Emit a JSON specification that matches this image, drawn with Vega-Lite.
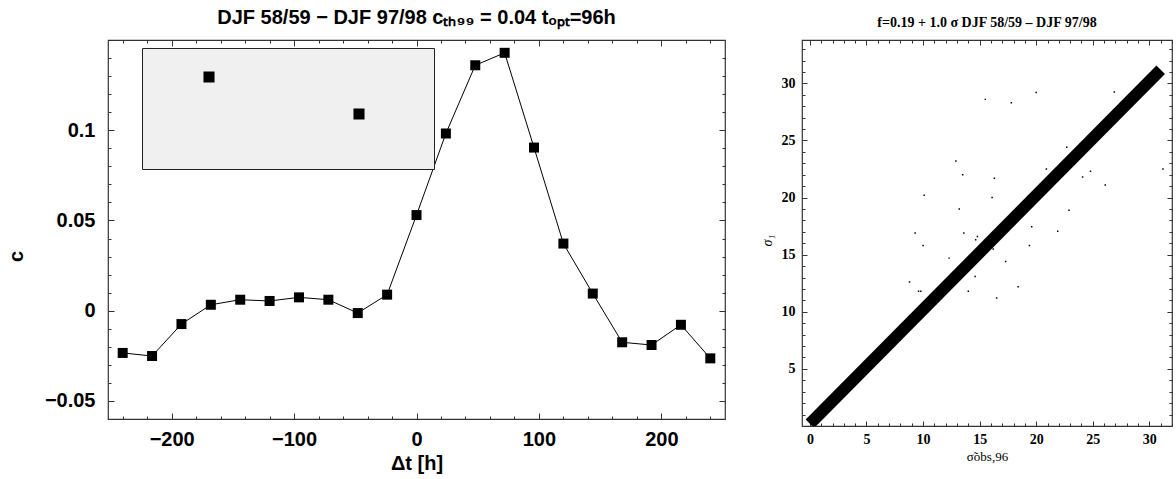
{
  "$schema": "https://vega.github.io/schema/vega-lite/v6.json",
  "background": "white",
  "padding": {"left": 5, "top": 6, "right": 0, "bottom": 0},
  "config": {
    "view": {"stroke": "#333", "strokeWidth": 1.2},
    "font": "Liberation Sans",
    "axis": {"domain": false, "grid": false, "tickColor": "#333", "tickWidth": 1, "labelColor": "black", "titleColor": "black"},
    "concat": {"spacing": 77}
  },
  "datasets": {
    "corr": [
      {"t": -240, "c": -0.0234}, {"t": -216, "c": -0.0251}, {"t": -192, "c": -0.0074},
      {"t": -168, "c": 0.0033}, {"t": -144, "c": 0.0061}, {"t": -120, "c": 0.0054},
      {"t": -96, "c": 0.0074}, {"t": -72, "c": 0.0061}, {"t": -48, "c": -0.0013},
      {"t": -24, "c": 0.0089}, {"t": 0, "c": 0.053}, {"t": 24, "c": 0.0982},
      {"t": 48, "c": 0.136}, {"t": 72, "c": 0.1429}, {"t": 96, "c": 0.0904},
      {"t": 120, "c": 0.0372}, {"t": 144, "c": 0.0095}, {"t": 168, "c": -0.0175},
      {"t": 192, "c": -0.019}, {"t": 216, "c": -0.0078}, {"t": 240, "c": -0.0264}
    ],
    "legendL": [
      {"series": "cE₉₆,E"}, {"series": "−cₜₕ₉"}, {"series": "cₜₕ₉₉"}
    ],
    "stars": [
      {"s": 15.5, "v": 28.6, "series": "σ₁"}, {"s": 17.8, "v": 28.3, "series": "σ₁"},
      {"s": 20.0, "v": 29.2, "series": "σ₁"}, {"s": 26.9, "v": 29.25, "series": "σ₁"},
      {"s": 12.9, "v": 23.2, "series": "σ₁"}, {"s": 13.5, "v": 22.0, "series": "σ₁"},
      {"s": 16.3, "v": 21.7, "series": "σ₁"}, {"s": 22.7, "v": 24.4, "series": "σ₁"},
      {"s": 20.9, "v": 22.5, "series": "σ₁"}, {"s": 24.1, "v": 21.8, "series": "σ₁"},
      {"s": 24.8, "v": 22.3, "series": "σ₁"}, {"s": 26.1, "v": 21.1, "series": "σ₁"},
      {"s": 31.2, "v": 22.5, "series": "σ₁"}, {"s": 10.1, "v": 20.2, "series": "σ₁"},
      {"s": 16.1, "v": 20.0, "series": "σ₁"}, {"s": 13.2, "v": 19.0, "series": "σ₁"},
      {"s": 22.9, "v": 18.9, "series": "σ₁"}, {"s": 9.3, "v": 16.9, "series": "σ₁"},
      {"s": 10.0, "v": 15.8, "series": "σ₁"}, {"s": 13.6, "v": 16.9, "series": "σ₁"},
      {"s": 14.8, "v": 16.6, "series": "σ₁"}, {"s": 14.65, "v": 16.3, "series": "σ₁"},
      {"s": 19.6, "v": 17.45, "series": "σ₁"}, {"s": 21.9, "v": 17.05, "series": "σ₁"},
      {"s": 12.3, "v": 14.7, "series": "σ₁"}, {"s": 16.2, "v": 15.5, "series": "σ₁"},
      {"s": 19.4, "v": 15.8, "series": "σ₁"}, {"s": 17.3, "v": 14.4, "series": "σ₁"},
      {"s": 13.3, "v": 12.9, "series": "σ₁"}, {"s": 14.6, "v": 13.1, "series": "σ₁"},
      {"s": 8.8, "v": 12.6, "series": "σ₁"}, {"s": 9.6, "v": 11.8, "series": "σ₁"},
      {"s": 9.8, "v": 11.8, "series": "σ₁"}, {"s": 14.0, "v": 11.8, "series": "σ₁"},
      {"s": 18.4, "v": 12.2, "series": "σ₁"}, {"s": 16.5, "v": 11.2, "series": "σ₁"},
      {"s": 9.0, "v": 9.4, "series": "σ₁"}
    ],
    "fline": [
      {"s": 0.0, "v": 0.19}, {"s": 31.0, "v": 31.19}
    ]
  },
  "hconcat": [
    {
      "width": 617,
      "height": 379,
      "title": {"text": "DJF 58/59 − DJF 97/98      cₜₕ₉₉ = 0.04      tₒₚₜ=96h", "fontSize": 20, "fontWeight": "bold", "font": "Liberation Sans", "color": "black", "offset": 12, "anchor": "middle"},
      "resolve": {"axis": {"x": "independent", "y": "independent"}},
      "layer": [
        {
          "data": {"name": "corr"},
          "mark": {"type": "line", "color": "black", "strokeWidth": 1, "point": {"shape": "square", "filled": true, "size": 100, "color": "black", "opacity": 1}},
          "encoding": {
            "x": {"field": "t", "type": "quantitative", "scale": {"domain": [-252, 252], "nice": false, "zero": false},
              "axis": {"orient": "bottom", "title": "Δt [h]", "values": [-240, -220, -200, -180, -160, -140, -120, -100, -80, -60, -40, -20, 0, 20, 40, 60, 80, 100, 120, 140, 160, 180, 200, 220, 240],
                "labelExpr": "datum.value % 100 === 0 ? format(datum.value, 'd') : ''",
                "tickSize": {"condition": {"test": "datum.value % 100 === 0", "value": -6}, "value": -3},
                "labelPadding": 16, "labelFontSize": 20, "labelFontWeight": "bold", "titleFontSize": 20, "titleFontWeight": "bold", "titlePadding": 4, "labelFlush": false}},
            "y": {"field": "c", "type": "quantitative", "scale": {"domain": [-0.06, 0.15], "nice": false, "zero": false},
              "axis": {"orient": "left", "title": "c", "values": [-0.05, -0.04, -0.03, -0.02, -0.01, 0, 0.01, 0.02, 0.03, 0.04, 0.05, 0.06, 0.07, 0.08, 0.09, 0.1, 0.11, 0.12, 0.13, 0.14],
                "labelExpr": "abs(round(datum.value * 100)) % 5 === 0 ? format(datum.value, '~g') : ''",
                "tickSize": {"condition": {"test": "abs(round(datum.value * 100)) % 5 === 0", "value": -6}, "value": -3},
                "labelPadding": 19, "labelFontSize": 20, "labelFontWeight": "bold", "titleFontSize": 20, "titleFontWeight": "bold", "titleX": -82, "titleY": 216, "labelFlush": false}}
          }
        },
        {
          "mark": {"type": "rule", "color": "black", "strokeWidth": 1},
          "encoding": {"y": {"datum": 0, "type": "quantitative", "scale": {"domain": [-0.06, 0.15], "nice": false, "zero": false}, "axis": null}}
        },
        {
          "mark": {"type": "rule", "color": "black", "strokeWidth": 1},
          "encoding": {"x": {"datum": 0, "type": "quantitative", "scale": {"domain": [-252, 252], "nice": false, "zero": false}, "axis": null}}
        },
        {
          "mark": {"type": "rule", "color": "#444", "strokeWidth": 1, "strokeDash": [1.5, 9]},
          "encoding": {"y": {"datum": 0.04, "type": "quantitative", "scale": {"domain": [-0.06, 0.15], "nice": false, "zero": false}, "axis": null}}
        },
        {
          "mark": {"type": "rule", "color": "#444", "strokeWidth": 1, "strokeDash": [1.5, 9]},
          "encoding": {"y": {"datum": -0.04, "type": "quantitative", "scale": {"domain": [-0.06, 0.15], "nice": false, "zero": false}, "axis": null}}
        },
        {
          "data": {"name": "legendL"},
          "mark": {"type": "point", "filled": true, "opacity": 0, "color": "black"},
          "encoding": {
            "shape": {"field": "series", "type": "nominal",
              "scale": {"domain": ["cE₉₆,E", "−cₜₕ₉", "cₜₕ₉₉"],
                "range": ["M-1,0H1M-0.27,-0.27H0.27V0.27H-0.27Z", "M-0.98,0H-0.91M-0.41,0H-0.34M0.14,0H0.21M0.69,0H0.76", "M-0.98,0H-0.91M-0.41,0H-0.34M0.14,0H0.21M0.69,0H0.76"]},
              "legend": {"orient": "none", "legendX": 34, "legendY": 8, "title": null, "padding": 8,
                "fillColor": "#f0f0f0", "strokeColor": "#222", "symbolSize": 1681, "symbolStrokeWidth": 1,
                "symbolStrokeColor": "black", "symbolFillColor": "black", "symbolOpacity": 1, "symbolOffset": 38,
                "labelOffset": 46, "labelFontSize": 20, "labelFontWeight": "bold", "labelFont": "Liberation Sans", "labelColor": "black", "rowPadding": 6}}
          }
        },
        {
          "data": {"name": "corr"},
          "mark": {"type": "point", "opacity": 0},
          "encoding": {
            "x": {"field": "t", "type": "quantitative", "scale": {"domain": [-252, 252], "nice": false, "zero": false},
              "axis": {"orient": "top", "title": null, "labels": false, "values": [-240, -220, -200, -180, -160, -140, -120, -100, -80, -60, -40, -20, 0, 20, 40, 60, 80, 100, 120, 140, 160, 180, 200, 220, 240],
                "tickSize": {"condition": {"test": "datum.value % 100 === 0", "value": -6}, "value": -3}}},
            "y": {"field": "c", "type": "quantitative", "scale": {"domain": [-0.06, 0.15], "nice": false, "zero": false},
              "axis": {"orient": "right", "title": null, "labels": false, "values": [-0.05, -0.04, -0.03, -0.02, -0.01, 0, 0.01, 0.02, 0.03, 0.04, 0.05, 0.06, 0.07, 0.08, 0.09, 0.1, 0.11, 0.12, 0.13, 0.14],
                "tickSize": {"condition": {"test": "abs(round(datum.value * 100)) % 5 === 0", "value": -6}, "value": -3}}}
          }
        }
      ]
    },
    {
      "width": 370,
      "height": 386,
      "title": {"text": "f=0.19 + 1.0 σ        DJF 58/59 – DJF 97/98", "fontSize": 14, "fontWeight": "bold", "font": "Liberation Sans Narrow", "color": "black", "offset": 10, "anchor": "middle"},
      "resolve": {"axis": {"x": "independent", "y": "independent"}},
      "layer": [
        {
          "data": {"name": "fline"},
          "mark": {"type": "line", "color": "black", "strokeWidth": 12, "clip": true},
          "encoding": {
            "x": {"field": "s", "type": "quantitative", "scale": {"domain": [-0.7, 32], "nice": false, "zero": false},
              "axis": {"orient": "bottom", "title": "σ̃obs,96", "values": [0, 1, 2, 3, 4, 5, 6, 7, 8, 9, 10, 11, 12, 13, 14, 15, 16, 17, 18, 19, 20, 21, 22, 23, 24, 25, 26, 27, 28, 29, 30, 31, 32],
                "labelExpr": "datum.value % 5 === 0 ? datum.label : ''",
                "tickSize": {"condition": {"test": "datum.value % 5 === 0", "value": -5}, "value": -3},
                "labelPadding": 11, "labelFontSize": 14, "labelFontWeight": "bold", "labelFont": "Liberation Sans Narrow",
                "titleFontSize": 13, "titleFontWeight": "normal", "titleFont": "Liberation Sans Narrow", "titlePadding": 4, "labelFlush": false}},
            "y": {"field": "v", "type": "quantitative", "scale": {"domain": [0, 33.8], "nice": false, "zero": false},
              "axis": {"orient": "left", "title": "σ₁", "values": [1, 2, 3, 4, 5, 6, 7, 8, 9, 10, 11, 12, 13, 14, 15, 16, 17, 18, 19, 20, 21, 22, 23, 24, 25, 26, 27, 28, 29, 30, 31, 32, 33],
                "labelExpr": "datum.value % 5 === 0 ? datum.label : ''",
                "tickSize": {"condition": {"test": "datum.value % 5 === 0", "value": -5}, "value": -3},
                "labelPadding": 12, "labelFontSize": 14, "labelFontWeight": "bold", "labelFont": "Liberation Sans Narrow",
                "titleFontSize": 14, "titleFontWeight": "normal", "titleFontStyle": "italic", "titleFont": "Liberation Sans Narrow", "titleX": -28, "titleY": 200, "labelFlush": false}}
          }
        },
        {
          "data": {"name": "stars"},
          "mark": {"type": "point", "filled": true, "color": "black", "size": 30, "opacity": 1, "clip": true},
          "encoding": {
            "x": {"field": "s", "type": "quantitative", "scale": {"domain": [-0.7, 32], "nice": false, "zero": false}, "axis": null},
            "y": {"field": "v", "type": "quantitative", "scale": {"domain": [0, 33.8], "nice": false, "zero": false}, "axis": null},
            "shape": {"field": "series", "type": "nominal",
              "scale": {"domain": ["σ₁", "f"], "range": ["star", "square"]},
              "legend": {"orient": "none", "legendX": 261, "legendY": 278, "title": "σ₁(σ̃obs,96)          f",
                "titleFont": "Liberation Sans Narrow", "titleFontSize": 14, "titleFontWeight": "normal", "titleColor": "black", "titlePadding": 10,
                "padding": 4, "fillColor": "#f0f0f0", "strokeColor": "#444", "direction": "horizontal", "columns": 2, "columnPadding": 24,
                "symbolSize": 30, "symbolOffset": 20, "symbolFillColor": "black", "symbolStrokeColor": "black", "symbolOpacity": 1,
                "labelExpr": "' '", "labelFontSize": 44, "labelOffset": 0}}
          }
        },
        {
          "data": {"name": "fline"},
          "mark": {"type": "point", "opacity": 0},
          "encoding": {
            "x": {"field": "s", "type": "quantitative", "scale": {"domain": [-0.7, 32], "nice": false, "zero": false},
              "axis": {"orient": "top", "title": null, "labels": false, "values": [0, 1, 2, 3, 4, 5, 6, 7, 8, 9, 10, 11, 12, 13, 14, 15, 16, 17, 18, 19, 20, 21, 22, 23, 24, 25, 26, 27, 28, 29, 30, 31, 32],
                "tickSize": {"condition": {"test": "datum.value % 5 === 0", "value": -5}, "value": -3}}},
            "y": {"field": "v", "type": "quantitative", "scale": {"domain": [0, 33.8], "nice": false, "zero": false},
              "axis": {"orient": "right", "title": null, "labels": false, "values": [1, 2, 3, 4, 5, 6, 7, 8, 9, 10, 11, 12, 13, 14, 15, 16, 17, 18, 19, 20, 21, 22, 23, 24, 25, 26, 27, 28, 29, 30, 31, 32, 33],
                "tickSize": {"condition": {"test": "datum.value % 5 === 0", "value": -5}, "value": -3}}}
          }
        }
      ]
    }
  ],
  "bounds": "flush"
}
